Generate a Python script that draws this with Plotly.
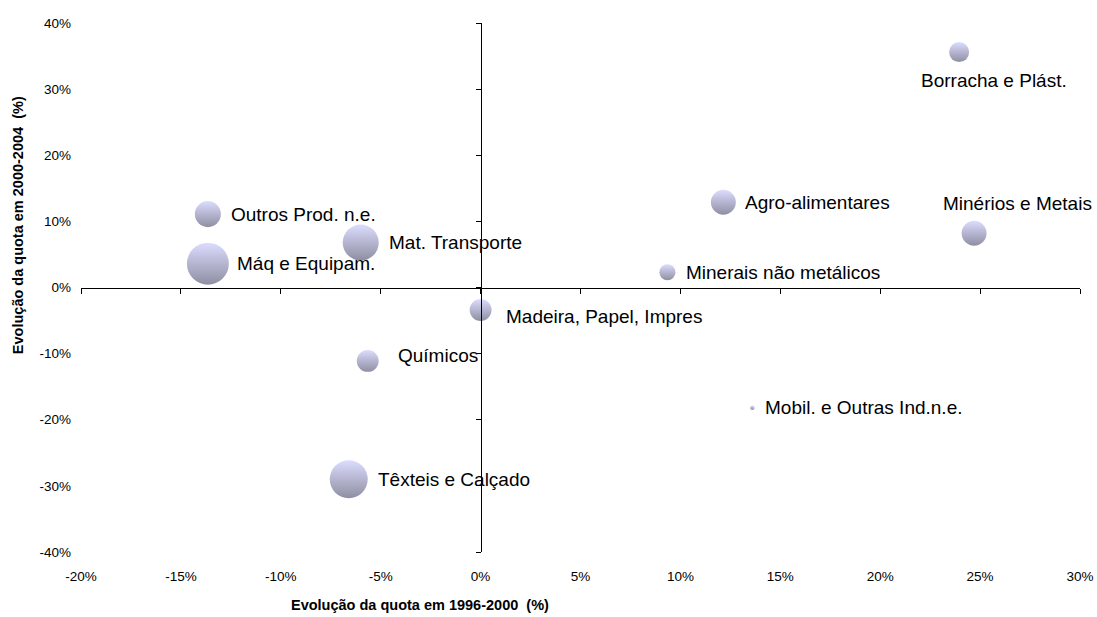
import plotly.graph_objects as go

# ---- data ----
setores = ["Borracha e Plást.", "Minérios e Metais", "Agro-alimentares",
           "Minerais não metálicos", "Mobil. e Outras Ind.n.e.",
           "Madeira, Papel, Impres", "Químicos", "Têxteis e Calçado",
           "Mat. Transporte", "Outros Prod. n.e.", "Máq e Equipam."]
evol_1996_2000 = [23.95, 24.7, 12.15, 9.35, 13.6, 0.0, -5.65, -6.6, -6.0, -13.65, -13.65]
evol_2000_2004 = [35.6, 8.2, 12.9, 2.3, -18.2, -3.4, -11.1, -29.0, 6.8, 11.1, 3.6]
peso = [4.0, 6.2, 6.2, 2.6, 0.2, 4.8, 4.8, 14.4, 13.0, 6.8, 17.6]

x_ticks = [-20, -15, -10, -5, 0, 5, 10, 15, 20, 25, 30]
x_ticklabels = ["-20%", "-15%", "-10%", "-5%", "0%", "5%", "10%", "15%", "20%", "25%", "30%"]
y_ticks = [-40, -30, -20, -10, 0, 10, 20, 30, 40]
y_ticklabels = ["-40%", "-30%", "-20%", "-10%", "0%", "10%", "20%", "30%", "40%"]
x_title = "Evolução da quota em 1996-2000  (%)"
y_title = "Evolução da quota em 2000-2004  (%)"

# ---- label offsets (style, pixels) ----
lab_dx = [-40, -33, 20, 17, 11, 23, 28, 27, 26, 21, 27]
lab_dy = [-28, 30, 0, 0, 0, -7, 5, 0, 0, 0, 0]

FONT = "Liberation Sans, Arial, sans-serif"

fig = go.Figure()
fig.add_trace(go.Scatter(
    x=evol_1996_2000, y=evol_2000_2004, mode="markers",
    marker=dict(size=peso, sizemode="area", sizeref=0.02, sizemin=0,
                color="#CDCDFF", line=dict(width=0),
                gradient=dict(type="vertical", color="#5E5E7A")),
    hoverinfo="text", text=setores, showlegend=False,
))

annotations = []
for s, xv, yv, dx, dy in zip(setores, evol_1996_2000, evol_2000_2004, lab_dx, lab_dy):
    annotations.append(dict(x=xv, y=yv, xref="x", yref="y", text=s, showarrow=False,
                            xanchor="left", yanchor="middle", xshift=dx, yshift=dy,
                            font=dict(family=FONT, size=19, color="#000")))
annotations.append(dict(x=0.339, y=-0.1, xref="paper", yref="paper", text="<b>" + x_title + "</b>",
                        showarrow=False, xanchor="center", yanchor="middle",
                        font=dict(family=FONT, size=14.5, color="#000")))
annotations.append(dict(x=-0.063, y=0.618, xref="paper", yref="paper", text="<b>" + y_title + "</b>",
                        showarrow=False, xanchor="center", yanchor="middle", textangle=-90,
                        font=dict(family=FONT, size=14.5, color="#000")))

tickfont = dict(family=FONT, size=13.5, color="#000")
fig.update_layout(
    width=1097, height=617,
    margin=dict(l=81, r=17, t=23, b=65, autoexpand=False),
    paper_bgcolor="white", plot_bgcolor="white",
    xaxis=dict(range=[x_ticks[0], x_ticks[-1]], tickvals=x_ticks, ticktext=x_ticklabels,
               showgrid=False, zeroline=False, showline=False, ticks="", automargin=False,
               tickfont=tickfont, ticklabelstandoff=14),
    yaxis=dict(range=[y_ticks[0], y_ticks[-1]], tickvals=y_ticks, ticktext=y_ticklabels,
               showgrid=False, zeroline=False, showline=False, ticks="", automargin=False,
               tickfont=tickfont, ticklabelstandoff=9),
    xaxis2=dict(range=[x_ticks[0], x_ticks[-1]], tickvals=x_ticks, overlaying="x",
                anchor="free", position=0.5, side="bottom", showline=True,
                linecolor="#000", linewidth=1, ticks="outside", ticklen=5, automargin=False,
                tickcolor="#000", showticklabels=False, showgrid=False, zeroline=False),
    yaxis2=dict(range=[y_ticks[0], y_ticks[-1]], tickvals=y_ticks, overlaying="y",
                anchor="free", position=0.4, side="left", showline=True,
                linecolor="#000", linewidth=1, ticks="outside", ticklen=5, automargin=False,
                tickcolor="#000", showticklabels=False, showgrid=False, zeroline=False),
    annotations=annotations,
)
# invisible trace to attach the crossing axes
fig.add_trace(go.Scatter(x=[], y=[], xaxis="x2", yaxis="y2", showlegend=False, hoverinfo="skip"))

fig.write_html("out.html", config={"displayModeBar": False},
               post_script="document.body.style.margin='0';document.body.style.overflow='hidden';")
